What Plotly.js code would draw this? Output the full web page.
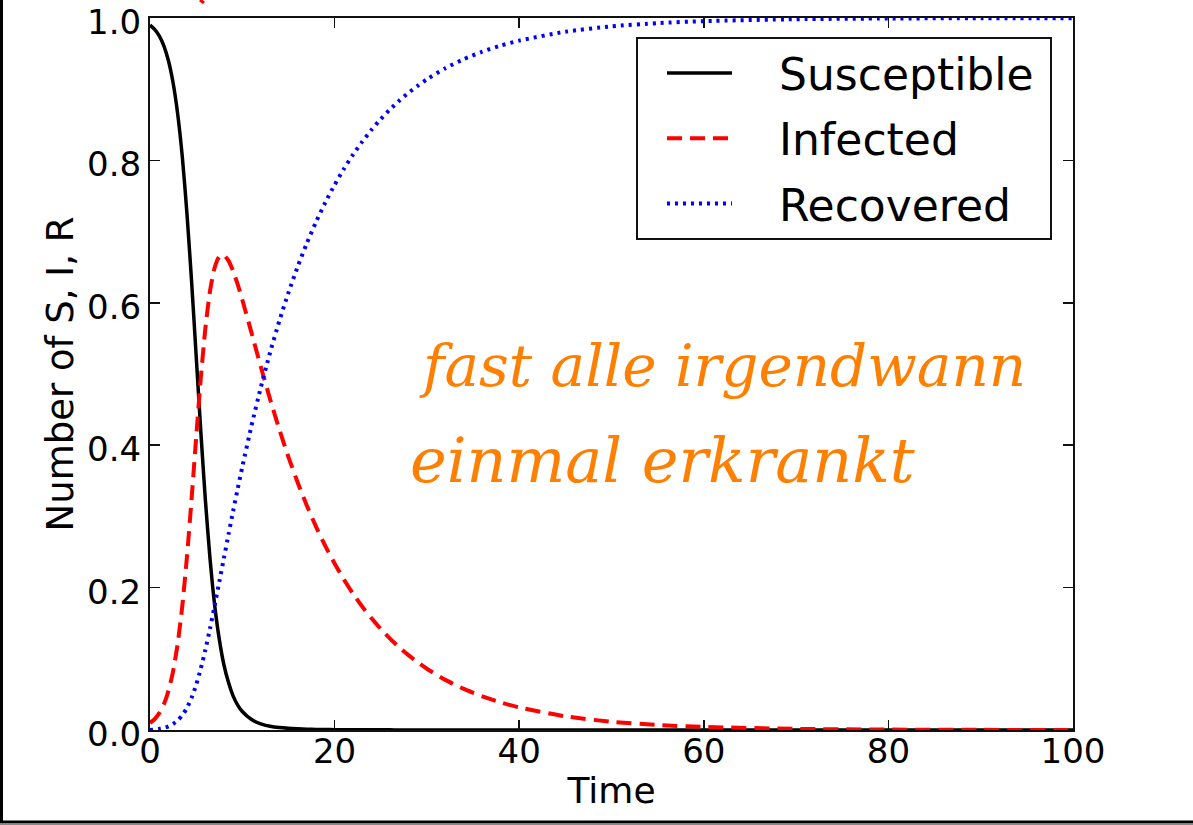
<!DOCTYPE html>
<html>
<head>
<meta charset="utf-8">
<script src="https://cdn.plot.ly/plotly-3.0.1.min.js"></script>
<style>html,body{margin:0;padding:0;background:#fff;}#chart{width:1193px;height:825px;}</style>
</head>
<body>
<div id="chart"></div>
<script>
// Time axis values
const time = [0,0.5,1,1.5,2,2.5,3,3.5,4,4.5,5,5.5,6,6.5,7,7.5,8,8.5,9,9.5,10,
  11,12,13,14,15,16,17,18,19,20,21,22,23,24,25,26,27,28,29,30,32,34,36,38,40,45,50,55,60,70,80,90,100];
// Susceptible fraction
const susceptible = [0.99,0.984,0.975,0.961,0.940,0.909,0.865,0.805,0.726,0.631,0.526,0.420,0.323,0.241,0.176,0.128,0.092,0.067,0.048,0.035,0.026,
  0.0147,0.0086,0.0053,0.0034,0.0023,0.0016,0.0011,0.0008,0.0006,0.0005,0.0004,0.0003,0.0003,0.0002,0.0002,0.0002,0.0001,0.0001,0.0001,0.0001,0.0001,0.0001,0.0001,0.0001,0.0001,0.0001,0.0001,0.0001,0.0001,0.0001,0.0001,0.0001,0.0001];
// Infected fraction
const infected = [0.01,0.0154,0.0237,0.0362,0.0550,0.0824,0.1214,0.1745,0.2427,0.3236,0.4105,0.4938,0.5644,0.6164,0.6492,0.6648,0.6669,0.6592,0.6447,0.6258,0.6043,
  0.5578,0.5105,0.4650,0.4226,0.3834,0.3476,0.3150,0.2853,0.2583,0.2339,0.2116,0.1915,0.1733,0.1568,0.1418,0.1283,0.1161,0.1051,0.0951,0.0860,0.0704,0.0577,0.0472,0.0387,0.0317,0.0192,0.0116,0.0071,0.0043,0.0016,0.0006,0.0002,0.0001];
// Recovered fraction
const recovered = [0,0.0006,0.0016,0.0030,0.0052,0.0085,0.0135,0.0207,0.0309,0.0450,0.0633,0.0861,0.1127,0.1425,0.1744,0.2075,0.2410,0.2742,0.3069,0.3388,0.3695,
  0.4275,0.4809,0.5297,0.5740,0.6143,0.6508,0.6839,0.7139,0.7411,0.7656,0.7880,0.8082,0.8264,0.8430,0.8580,0.8715,0.8838,0.8948,0.9048,0.9139,0.9295,0.9422,0.9527,0.9612,0.9682,0.9807,0.9883,0.9928,0.9956,0.9983,0.9993,0.9997,0.9998];

const seriesNames = ["Susceptible","Infected","Recovered"];
const xTickVals = [0,20,40,60,80,100];
const yTickVals = [0,0.2,0.4,0.6,0.8,1.0];
const noteLines = ["fast alle irgendwann","einmal erkrankt"];

const W = 1193, H = 825, L = 150, R = 120, T = 18, B = 95;
const pw = W - L - R, ph = H - T - B;
const px = v => (v - L) / pw;      // pixel -> paper x
const py = v => (H - B - v) / ph;  // pixel -> paper y

const font = "DejaVu Sans, sans-serif";
const pad = "\u00a0\u00a0\u00a0";

const traces = [
  {x: time, y: susceptible, name: pad + seriesNames[0], type: "scatter", mode: "lines", legendgroup: "a",
   line: {color: "#000000", width: 3.5, shape: "spline", smoothing: 0.6}},
  {x: time, y: infected, name: pad + seriesNames[1], type: "scatter", mode: "lines", legendgroup: "b",
   line: {color: "#ff0000", width: 4, dash: "15px,8px", shape: "spline", smoothing: 0.6}},
  {x: time, y: recovered, name: pad + seriesNames[2], type: "scatter", mode: "lines", legendgroup: "c",
   line: {color: "#0000ff", width: 4, dash: "3px,5px", shape: "spline", smoothing: 0.6}}
];

const axisCommon = {
  showline: true, linecolor: "#111", linewidth: 2, mirror: "ticks",
  ticks: "inside", ticklen: 10, tickwidth: 1.5, tickcolor: "#111",
  showgrid: false, zeroline: false, ticklabeloverflow: "allow",
  tickfont: {family: font, size: 34, color: "#000"}
};

const layout = {
  width: W, height: H,
  margin: {l: L, r: R, t: T, b: B, pad: 0},
  paper_bgcolor: "#fff", plot_bgcolor: "#fff",
  showlegend: true,
  legend: {
    x: px(662), y: py(38), xanchor: "left", yanchor: "top",
    bgcolor: "rgba(0,0,0,0)", borderwidth: 0,
    font: {family: font, size: 44, color: "#000"},
    tracegroupgap: 5, itemwidth: 65
  },
  xaxis: Object.assign({}, axisCommon, {
    range: [0, 100], tickvals: xTickVals, ticktext: xTickVals.map(String),
    ticklabelstandoff: -10,
    title: {text: "Time", font: {family: font, size: 36, color: "#000"}, standoff: 8}
  }),
  yaxis: Object.assign({}, axisCommon, {
    range: [0, 1], tickvals: yTickVals, ticktext: yTickVals.map(v => v.toFixed(1)),
    ticklabelshift: 4,
    title: {text: "Number of S, I, R", font: {family: font, size: 37, color: "#000"}, standoff: 2}
  }),
  annotations: [
    {xref: "paper", yref: "paper", x: px(722), y: py(366), text: noteLines[0], showarrow: false,
     xanchor: "center", yanchor: "middle",
     font: {family: "DejaVu Serif, serif", style: "italic", size: 58, color: "#ff8000"}},
    {xref: "paper", yref: "paper", x: px(662), y: py(460), text: noteLines[1], showarrow: false,
     xanchor: "center", yanchor: "middle",
     font: {family: "DejaVu Serif, serif", style: "italic", size: 62, color: "#ff8000"}}
  ],
  shapes: [
    {type: "rect", xref: "paper", yref: "paper", layer: "above",
     x0: px(637), x1: px(1051), y0: py(38), y1: py(239),
     fillcolor: "#fff", line: {color: "#111", width: 2}},
    {type: "line", xref: "paper", yref: "paper", x0: px(1.5), x1: px(1.5), y0: py(0), y1: py(822),
     line: {color: "#000", width: 3}},
    {type: "line", xref: "paper", yref: "paper", x0: px(0), x1: px(W), y0: py(822), y1: py(822),
     line: {color: "#000", width: 3}},
    {type: "line", xref: "paper", yref: "paper", x0: px(0), x1: px(W), y0: py(824.5), y1: py(824.5),
     line: {color: "#888", width: 1.5}},
    {type: "line", xref: "paper", yref: "paper", x0: px(200), x1: px(204), y0: py(0), y1: py(3),
     line: {color: "#ff0000", width: 3}}
  ]
};

Plotly.newPlot("chart", traces, layout, {displayModeBar: false, staticPlot: true});
</script>
</body>
</html>
